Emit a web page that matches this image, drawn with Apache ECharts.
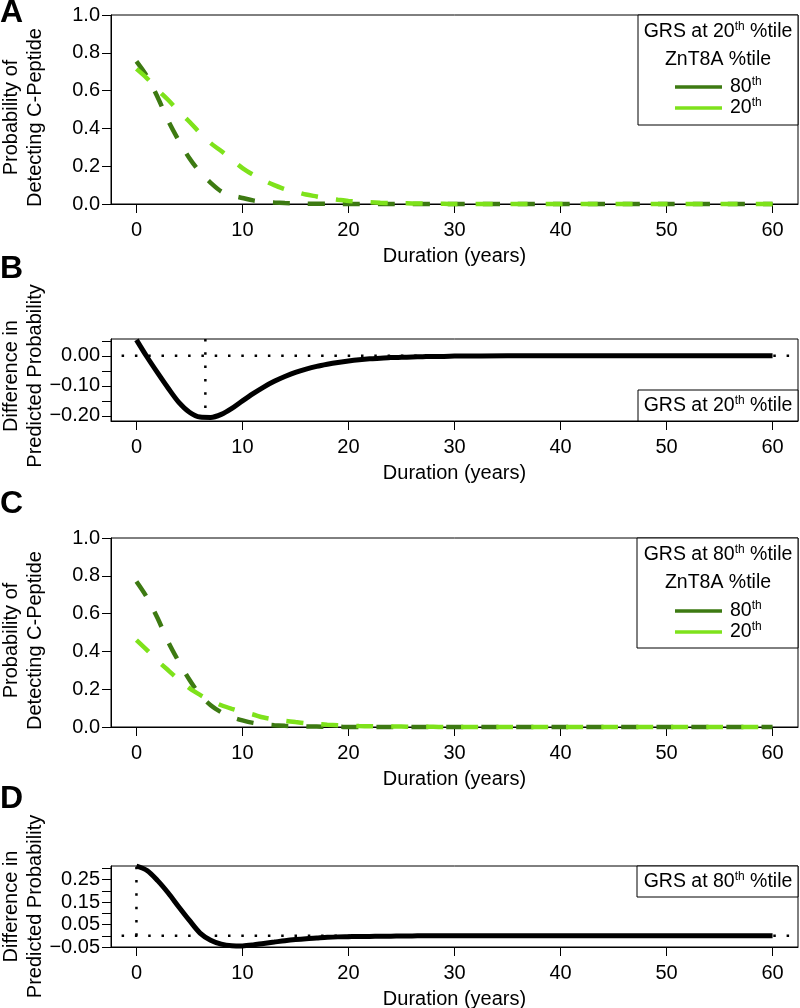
<!DOCTYPE html>
<html>
<head>
<meta charset="utf-8">
<script src="https://cdn.jsdelivr.net/npm/echarts@6/dist/echarts.min.js"></script>
<style>
html,body{margin:0;padding:0;background:#fff;}
#chart{width:800px;height:1008px;}
</style>
</head>
<body>
<div id="chart"></div>
<script>
// ---- data ----
const years = [0,1,2,3,4,5,6,7,8,9,10,11,12,13,14,15,16,17,18,19,20,21,22,23,24,25,26,27,28,29,30,35,40,45,50,55,60];

// Panel A: GRS at 20th percentile
const probA_Zn80 = [0.755,0.675,0.565,0.44,0.335,0.242,0.168,0.112,0.066,0.045,0.032,0.019,0.012,0.008,0.005,0.003,0.002,0.001,0.001,0,0,0,0,0,0,0,0,0,0,0,0,0,0,0,0,0,0];
const probA_Zn20 = [0.715,0.665,0.605,0.55,0.49,0.435,0.375,0.322,0.28,0.235,0.19,0.155,0.125,0.10,0.078,0.065,0.05,0.04,0.03,0.022,0.016,0.012,0.01,0.007,0.005,0.004,0.003,0.002,0.001,0.001,0,0,0,0,0,0,0];
// Panel B: difference (GRS 20th)
const diffB = [0.053,-0.004,-0.057,-0.108,-0.155,-0.188,-0.204,-0.205,-0.195,-0.175,-0.15,-0.126,-0.104,-0.085,-0.069,-0.055,-0.044,-0.035,-0.028,-0.022,-0.017,-0.013,-0.01,-0.008,-0.006,-0.005,-0.004,-0.003,-0.002,-0.002,-0.001,0,0,0,0,0,0];
// Panel C: GRS at 80th percentile
const probC_Zn80 = [0.77,0.685,0.575,0.45,0.345,0.25,0.17,0.115,0.078,0.052,0.035,0.022,0.014,0.009,0.006,0.004,0.003,0.002,0.001,0.001,0,0,0,0,0,0,0,0,0,0,0,0,0,0,0,0,0];
const probC_Zn20 = [0.46,0.407,0.35,0.30,0.25,0.205,0.17,0.14,0.115,0.096,0.08,0.066,0.05,0.04,0.033,0.026,0.02,0.016,0.012,0.009,0.007,0.005,0.004,0.003,0.002,0.002,0.001,0.001,0.001,0,0,0,0,0,0,0,0];
// Panel D: difference (GRS 80th)
const diffD = [0.31,0.29,0.245,0.19,0.128,0.068,0.012,-0.02,-0.037,-0.044,-0.045,-0.041,-0.034,-0.028,-0.022,-0.017,-0.013,-0.01,-0.007,-0.005,-0.004,-0.003,-0.003,-0.002,-0.002,-0.001,-0.001,0,0,0,0,0,0,0,0,0,0];

// reference (dotted) lines
const zeroLineX = [-1.4, 61.6];
const zeroLineY = [0, 0];
const bMinX = [6.5, 6.5];
const bMinY = [0.056, -0.208];
const dStartX = [0, 0];
const dStartY = [0, 0.31];

// ticks
const xTicks = [0,10,20,30,40,50,60];
const diffTicksB = [-0.2,-0.15,-0.1,-0.05,0,0.05];
const diffLabelsB = [-0.2,-0.1,0];
const diffTicksD = [-0.05,0,0.05,0.1,0.15,0.2,0.25,0.3];
const diffLabelsD = [-0.05,0.05,0.15,0.25];

const seriesNames = ['80th','20th'];

// ---- styles ----
const FONT = 'Liberation Sans, Arial, Helvetica, sans-serif';
const FS = 20;
const FSL = 19.5;
const DARK = '#3D7A12';
const LIGHT = '#7EE21B';

function pairs(xs, ys){ return xs.map((x,i)=>[x, ys[i]]); }
function fmt2(v){ return v.toFixed(2).replace('-', '\u2212'); }

const grids = [
  {left:111, right:2, top:15, height:189},
  {left:111, right:2, top:339, height:82},
  {left:111, right:2, top:538, height:189},
  {left:111, right:2, top:866, height:81}
].map(g => Object.assign({show:true, borderColor:'#000', borderWidth:1, backgroundColor:'transparent',
  containLabel:false, outerBoundsMode:'none'}, g));

function xAxis(i){
  return {
    type:'value', gridIndex:i, min:-2.4, max:62.4,
    name:'Duration (years)', nameLocation:'middle', nameGap:42, nameMoveOverlap:false,
    nameTextStyle:{fontFamily:FONT, fontSize:FS, color:'#000'},
    axisLine:{show:true, onZero:false, lineStyle:{color:'#000', width:1}},
    axisTick:{show:true, length:9, customValues:xTicks, lineStyle:{color:'#000', width:1}},
    axisLabel:{customValues:xTicks, margin:16, fontFamily:FONT, fontSize:FS, color:'#000'},
    splitLine:{show:false}
  };
}
const yName1 = 'Probability of\nDetecting C-Peptide';
const yName2 = 'Difference in\nPredicted Probability';
function yAxisBase(i, name, pad){
  return {
    type:'value', gridIndex:i, name:name, nameLocation:'middle', nameGap:64, nameMoveOverlap:false,
    nameTextStyle:{fontFamily:FONT, fontSize:FS, color:'#000', lineHeight:24, padding:pad},
    axisLine:{show:true, onZero:false, lineStyle:{color:'#000', width:1}},
    splitLine:{show:false}
  };
}
const yAxes = [
  Object.assign(yAxisBase(0, yName1, [0,16,0,0]), {min:0, max:1, interval:0.2,
    axisTick:{show:true, length:9, lineStyle:{color:'#000'}},
    axisLabel:{margin:11, fontFamily:FONT, fontSize:FS, color:'#000', formatter:v=>v.toFixed(1)}}),
  Object.assign(yAxisBase(1, yName2, [0,0,0,8]), {min:-0.217, max:0.056,
    axisTick:{show:true, length:9, customValues:diffTicksB, lineStyle:{color:'#000'}},
    axisLabel:{margin:11, customValues:diffLabelsB, fontFamily:FONT, fontSize:FS, color:'#000', formatter:fmt2}}),
  Object.assign(yAxisBase(2, yName1, [0,16,0,0]), {min:0, max:1, interval:0.2,
    axisTick:{show:true, length:9, lineStyle:{color:'#000'}},
    axisLabel:{margin:11, fontFamily:FONT, fontSize:FS, color:'#000', formatter:v=>v.toFixed(1)}}),
  Object.assign(yAxisBase(3, yName2, [0,0,0,0]), {min:-0.05, max:0.31,
    axisTick:{show:true, length:9, customValues:diffTicksD, lineStyle:{color:'#000'}},
    axisLabel:{margin:11, customValues:diffLabelsD, fontFamily:FONT, fontSize:FS, color:'#000', formatter:fmt2}})
];

function dashed(i, name, ys, color, z){
  return {type:'line', name:name, xAxisIndex:i, yAxisIndex:i, data:pairs(years, ys),
    symbol:'none', smooth:0.3, clip:false, z:z, silent:true,
    lineStyle:{color:color, width:4.5, type:[17,18]}, itemStyle:{color:color}};
}
function solid(i, ys){
  return {type:'line', name:'diff'+i, xAxisIndex:i, yAxisIndex:i, data:pairs(years, ys),
    symbol:'none', smooth:0.3, clip:false, z:3, silent:true,
    lineStyle:{color:'#000', width:5}};
}
function dotted(i, xs, ys){
  return {type:'line', name:'ref', xAxisIndex:i, yAxisIndex:i, data:pairs(xs, ys),
    symbol:'none', clip:false, z:1, silent:true,
    lineStyle:{color:'#000', width:2.5, type:[2.5,10.8]}};
}

const legendRich = {
  n:{fontFamily:FONT, fontSize:FSL, color:'#000', lineHeight:22},
  s:{fontFamily:FONT, fontSize:12, color:'#000', lineHeight:12, verticalAlign:'top'}
};
function legend(top){
  return {
    data:seriesNames, orient:'vertical', left:675, top:top, itemWidth:47, itemHeight:3.5, itemGap:0,
    icon:'rect', selectedMode:false, padding:0, z:10,
    formatter: n => '{n|' + n.replace('th','') + '}{s|th}',
    textStyle:{rich:legendRich, padding:[0,0,0,3]}
  };
}

const headRich = {s:{fontFamily:FONT, fontSize:12, color:'#000', lineHeight:12, verticalAlign:'top'}};
function headText(x, y, rich){
  return {type:'text', x:x, y:y, z:10,
    style:{text:rich, fontFamily:FONT, fontSize:FSL, fill:'#000', align:'center', verticalAlign:'middle', rich:headRich, lineHeight:22}};
}
function box(x, y, w, h){
  return {type:'rect', z:5, shape:{x:x, y:y, width:w, height:h}, style:{fill:'#fff', stroke:'#000', lineWidth:1}};
}

const letterStyle = {fontFamily:FONT, fontSize:32, fontWeight:'bold', color:'#000'};

const option = {
  animation:false,
  backgroundColor:'#fff',
  title:[
    {text:'A', left:0, top:-3, padding:0, textStyle:letterStyle},
    {text:'B', left:0, top:253, padding:0, textStyle:letterStyle},
    {text:'C', left:0, top:488, padding:0, textStyle:letterStyle},
    {text:'D', left:0, top:783, padding:0, textStyle:letterStyle}
  ],
  grid:grids,
  xAxis:[xAxis(0), xAxis(1), xAxis(2), xAxis(3)],
  yAxis:yAxes,
  legend:[legend(76), legend(600)],
  graphic:[
    box(638, 15, 160, 110),
    headText(718, 32, 'GRS at 20{s|th} %tile'),
    headText(718, 60, 'ZnT8A %tile'),
    box(638, 390, 160, 31),
    headText(718, 405.5, 'GRS at 20{s|th} %tile'),
    box(637, 538, 161, 110),
    headText(718, 555, 'GRS at 80{s|th} %tile'),
    headText(718, 583, 'ZnT8A %tile'),
    box(637, 866, 161, 31),
    headText(718, 881.5, 'GRS at 80{s|th} %tile')
  ],
  series:[
    dashed(0, seriesNames[0], probA_Zn80, DARK, 2),
    dashed(0, seriesNames[1], probA_Zn20, LIGHT, 3),
    dotted(1, zeroLineX, zeroLineY),
    dotted(1, bMinX, bMinY),
    solid(1, diffB),
    dashed(2, seriesNames[0], probC_Zn80, DARK, 2),
    dashed(2, seriesNames[1], probC_Zn20, LIGHT, 3),
    dotted(3, zeroLineX, zeroLineY),
    dotted(3, dStartX, dStartY),
    solid(3, diffD)
  ]
};

const chart = echarts.init(document.getElementById('chart'), null, {renderer:'canvas'});
chart.setOption(option);
</script>
</body>
</html>
